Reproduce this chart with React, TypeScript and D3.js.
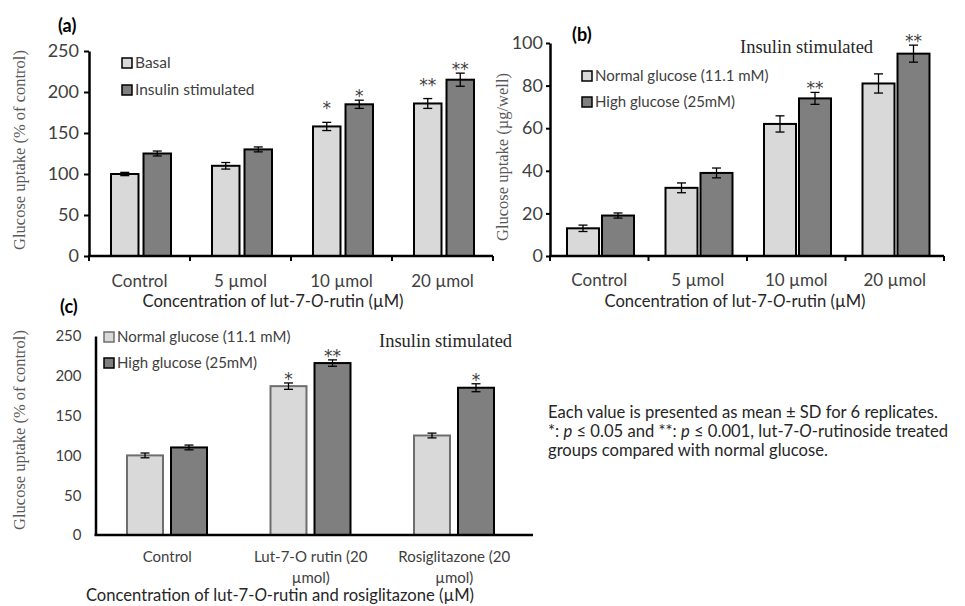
import React, { useEffect, useRef } from 'react';
import * as d3 from 'd3';

// panel (a)
const groupsA = ['Control', '5 µmol', '10 µmol', '20 µmol'];
const basalA = [100, 110, 158, 186];
const basalErrA = [2, 4, 5, 6];
const basalStarA = ['', '', '*', '**'];
const insulinA = [125, 130, 185, 215];
const insulinErrA = [3, 3, 5, 8];
const insulinStarA = ['', '', '*', '**'];
const ticksA = [0, 50, 100, 150, 200, 250];

// panel (b)
const groupsB = ['Control', '5 µmol', '10 µmol', '20 µmol'];
const normalB = [13, 32, 62, 81];
const normalErrB = [1.5, 2.3, 3.8, 4.5];
const normalStarB = ['', '', '', ''];
const highB = [19, 39, 74, 95];
const highErrB = [1.2, 2.3, 2.8, 4];
const highStarB = ['', '', '**', '**'];
const ticksB = [0, 20, 40, 60, 80, 100];

// panel (c)
const groupsC = ['Control', 'Lut-7-O rutin (20|µmol)', 'Rosiglitazone (20|µmol)'];
const normalC = [100, 187, 125];
const normalErrC = [3, 4, 3];
const normalStarC = ['', '*', ''];
const highC = [110, 216, 185];
const highErrC = [3, 4, 5];
const highStarC = ['', '**', '*'];
const ticksC = [0, 50, 100, 150, 200, 250];

const SANS = 'Lato, "Open Sans", sans-serif';
const SERIF = '"Liberation Serif", "DejaVu Serif", serif';
const LIGHT = '#d9d9d9';
const DARK = '#7f7f7f';

function drawPanel(g, p) {
  const x = d3.scaleBand().domain(p.groups).range(p.xRange);
  const inner = d3.scaleBand().domain(['s1', 's2']).range(p.inner).paddingInner(p.pad);
  const y = d3.scaleLinear().domain([0, p.ymax]).range(p.yRange);

  const series = [
    { key: 's1', vals: p.s1, errs: p.e1, stars: p.st1, fill: LIGHT, stroke: p.stroke1, lift: p.lift1 || 0 },
    { key: 's2', vals: p.s2, errs: p.e2, stars: p.st2, fill: DARK, stroke: '#000', lift: 0 },
  ];

  series.forEach(s => {
    const sg = g.append('g');
    p.groups.forEach((grp, i) => {
      const bx = x(grp) + inner(s.key);
      const bw = inner.bandwidth();
      sg.append('rect')
        .attr('x', bx).attr('y', y(s.vals[i]))
        .attr('width', bw).attr('height', y(0) - y(s.vals[i]))
        .attr('fill', s.fill).attr('stroke', s.stroke).attr('stroke-width', 2);
      const cx = bx + bw / 2;
      const top = y(s.vals[i] + s.errs[i]);
      const bot = y(s.vals[i] - s.errs[i]);
      sg.append('line').attr('x1', cx).attr('x2', cx).attr('y1', top).attr('y2', bot)
        .attr('stroke', '#000').attr('stroke-width', 1.3);
      [top, bot].forEach(yy => {
        sg.append('line').attr('x1', cx - 4.5).attr('x2', cx + 4.5).attr('y1', yy).attr('y2', yy)
          .attr('stroke', '#000').attr('stroke-width', 1.3);
      });
      if (s.stars[i]) {
        sg.append('text').attr('x', cx).attr('y', top + 2 - s.lift)
          .attr('text-anchor', 'middle').attr('font-family', '"DejaVu Sans", sans-serif').attr('font-size', 17)
          .attr('fill', '#404040').text(s.stars[i]);
      }
    });
  });

  // y axis
  const ya = g.append('g').attr('transform', `translate(${p.xRange[0]},0)`)
    .call(d3.axisLeft(y).tickValues(p.ticks).tickSize(p.yTick).tickSizeOuter(0).tickPadding(p.yPad));
  ya.select('.domain').attr('stroke-width', 2.5);
  ya.selectAll('.tick line').attr('stroke-width', 2);
  ya.selectAll('.tick text').attr('font-family', SANS).attr('font-size', p.yFont).attr('fill', '#404040');

  // x axis
  g.append('line').attr('x1', p.xRange[0] - 1).attr('x2', p.xEnd)
    .attr('y1', y(0)).attr('y2', y(0)).attr('stroke', '#000').attr('stroke-width', 2.5);
  if (p.xTicks) {
    const bounds = p.groups.map(d => x(d)).concat([x(p.groups[p.groups.length - 1]) + x.bandwidth()]);
    g.append('g').selectAll('line').data(bounds).join('line')
      .attr('x1', d => d).attr('x2', d => d).attr('y1', y(0)).attr('y2', y(0) + 5)
      .attr('stroke', '#000').attr('stroke-width', 2);
  }
  const lab = g.append('g').selectAll('text').data(p.groups).join('text')
    .attr('x', d => x(d) + x.bandwidth() / 2).attr('y', p.labelY)
    .attr('text-anchor', 'middle').attr('font-family', SANS).attr('font-size', p.xFont).attr('fill', '#404040');
  lab.each(function (d) {
    const parts = d.split('|');
    parts.forEach((t, k) => {
      d3.select(this).append('tspan').attr('x', x(d) + x.bandwidth() / 2)
        .attr('dy', k === 0 ? 0 : 21).text(t);
    });
  });

  // y title
  g.append('text').attr('transform', `translate(${p.yTitle[0]},${p.yTitle[1]}) rotate(-90)`)
    .attr('text-anchor', 'middle').attr('font-family', SERIF).attr('font-size', 16.5)
    .attr('fill', '#595959').text(p.yLabel);

  // x title
  const xt = g.append('text').attr('x', p.xTitle[0]).attr('y', p.xTitle[1])
    .attr('text-anchor', 'middle').attr('font-family', SANS).attr('font-size', 16.6).attr('fill', '#262626');
  xt.append('tspan').text(p.xLabel[0]);
  xt.append('tspan').attr('font-style', 'italic').text('O');
  xt.append('tspan').text(p.xLabel[1]);

  // panel letter
  g.append('text').attr('x', p.letter[0]).attr('y', p.letter[1])
    .attr('font-family', SANS).attr('font-weight', 'bold').attr('font-size', 18)
    .attr('fill', '#000').text(p.letter[2]);

  // legend
  p.legend.forEach((L, k) => {
    const ly = p.legendPos[1] + k * p.legendStep;
    g.append('rect').attr('x', p.legendPos[0]).attr('y', ly).attr('width', 10).attr('height', 10)
      .attr('fill', k === 0 ? LIGHT : DARK).attr('stroke', k === 0 ? p.stroke1 : '#000').attr('stroke-width', 1.5);
    g.append('text').attr('x', p.legendPos[0] + 13).attr('y', ly + 10)
      .attr('font-family', SANS).attr('font-size', p.legendFont).attr('fill', '#404040').text(L);
  });

  if (p.insulin) {
    g.append('text').attr('x', p.insulin[0]).attr('y', p.insulin[1])
      .attr('font-family', SERIF).attr('font-size', 18.5).attr('fill', '#262626').text('Insulin stimulated');
  }
}

export default function App() {
  const ref = useRef(null);

  useEffect(() => {
    const svg = d3.select(ref.current);
    svg.selectAll('*').remove();

    drawPanel(svg.append('g'), {
      groups: groupsA, s1: basalA, e1: basalErrA, st1: basalStarA,
      s2: insulinA, e2: insulinErrA, st2: insulinStarA, ticks: ticksA, ymax: 250,
      xRange: [89, 493], xEnd: 493, inner: [22, 82], pad: 0.154, yRange: [256, 51],
      stroke1: '#000', lift1: 10, yTick: 5, yPad: 5, yFont: 18, xFont: 17, legendFont: 15.5,
      xTicks: true, labelY: 287,
      yLabel: 'Glucose uptake (% of control)', yTitle: [25, 150],
      xLabel: ['Concentration of lut-7-', '-rutin (µM)'], xTitle: [273, 307],
      letter: [58, 32, '(a)'], legend: ['Basal', 'Insulin stimulated'], legendPos: [122, 58], legendStep: 27,
    });

    drawPanel(svg.append('g'), {
      groups: groupsB, s1: normalB, e1: normalErrB, st1: normalStarB,
      s2: highB, e2: highErrB, st2: highStarB, ticks: ticksB, ymax: 100,
      xRange: [550, 944], xEnd: 944, inner: [17, 84], pad: 0.086, yRange: [256, 43],
      stroke1: '#000', yTick: 4, yPad: 3, yFont: 18, xFont: 17, legendFont: 15,
      xTicks: true, labelY: 286,
      yLabel: 'Glucose uptake (µg/well)', yTitle: [508, 157],
      xLabel: ['Concentration of lut-7-', '-rutin (µM)'], xTitle: [735, 307],
      letter: [572, 41, '(b)'], legend: ['Normal glucose (11.1 mM)', 'High glucose (25mM)'], legendPos: [582, 71], legendStep: 26,
      insulin: [740, 53],
    });

    drawPanel(svg.append('g'), {
      groups: groupsC, s1: normalC, e1: normalErrC, st1: normalStarC,
      s2: highC, e2: highErrC, st2: highStarC, ticks: ticksC, ymax: 250,
      xRange: [95.5, 526], xEnd: 533, inner: [31.5, 111.5], pad: 0.182, yRange: [535, 336],
      stroke1: '#6e6e6e', yTick: 0, yPad: 14, yFont: 15, xFont: 15, legendFont: 15,
      xTicks: false, labelY: 562,
      yLabel: 'Glucose uptake (% of control)', yTitle: [25, 430],
      xLabel: ['Concentration of lut-7-', '-rutin and rosiglitazone (µM)'], xTitle: [280, 601],
      letter: [60, 313, '(c)'], legend: ['Normal glucose (11.1 mM)', 'High glucose (25mM)'], legendPos: [104, 332], legendStep: 26,
      insulin: [379, 347],
    });

    const note = svg.append('g').attr('font-family', SANS).attr('font-size', 16.6).attr('fill', '#262626');
    note.append('text').attr('x', 548).attr('y', 418).text('Each value is presented as mean ± SD for 6 replicates.');
    const l2 = note.append('text').attr('x', 548).attr('y', 437);
    l2.append('tspan').text('*: ');
    l2.append('tspan').attr('font-style', 'italic').text('p');
    l2.append('tspan').text(' ≤ 0.05 and **: ');
    l2.append('tspan').attr('font-style', 'italic').text('p');
    l2.append('tspan').text(' ≤ 0.001, lut-7-');
    l2.append('tspan').attr('font-style', 'italic').text('O');
    l2.append('tspan').text('-rutinoside treated');
    note.append('text').attr('x', 548).attr('y', 456).text('groups compared with normal glucose.');
  }, []);

  return (
    <svg ref={ref} width={965} height={606}
      style={{ position: 'absolute', left: 0, top: 0, background: '#fff' }} />
  );
}
